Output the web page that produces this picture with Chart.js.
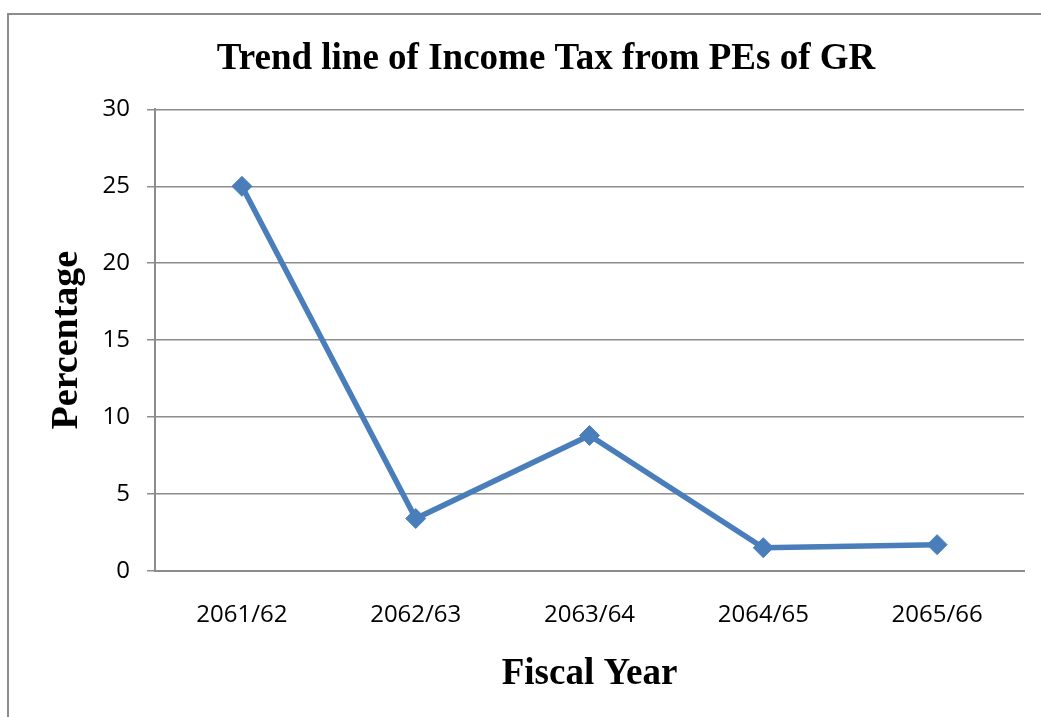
<!DOCTYPE html>
<html>
<head>
<meta charset="utf-8">
<title>Income Tax trend</title>
<script src="https://cdn.jsdelivr.net/npm/chart.js@4/dist/chart.umd.min.js"></script>
<style>
  html, body { margin: 0; padding: 0; background: #fff; overflow: hidden; }
  #wrap { position: absolute; left: 0; top: 0; width: 1041px; height: 717px; }
</style>
</head>
<body>
<div id="wrap"><canvas id="lineChart1"></canvas></div>
<script>
// fiscal years and income tax share (%)
var years = ["2061/62", "2062/63", "2063/64", "2064/65", "2065/66"]
var taxPct = [25, 3.4, 8.8, 1.5, 1.7]
var tableName = "Trend line of Income Tax from PEs of GR"

var lineColor = "#4a7ebb"
var gridColor = "#8c8c8c"
var serif = "'Liberation Serif', 'Times New Roman', serif"
var sans = "'Open Sans', sans-serif"

// outer frame of the chart area (runs off the right and bottom edge)
var framePlugin = {
    id: "frame",
    beforeDraw: function (chart) {
        var ctx = chart.ctx
        ctx.save()
        ctx.strokeStyle = "#8c8c8c"
        ctx.lineWidth = 2
        ctx.strokeRect(8, 14, 1100, 800)
        ctx.restore()
    }
}

var myChart = document.getElementById("lineChart1").getContext("2d")
var chart = new Chart(myChart, {
    type: "line",
    data: {
        labels: years,
        datasets: [{
            data: taxPct,
            borderColor: lineColor,
            backgroundColor: lineColor,
            borderWidth: 5.5,
            pointStyle: "rectRot",
            pointRadius: 10,
            pointBorderWidth: 1,
            pointBackgroundColor: lineColor,
            pointBorderColor: lineColor,
            tension: 0
        }]
    },
    options: {
        responsive: true,
        maintainAspectRatio: false,
        animation: false,
        layout: {
            // wide left pad keeps the title centred like the original
            padding: { left: 68, right: 17, top: 22, bottom: 15 }
        },
        plugins: {
            title: {
                text: tableName,
                display: true,
                color: "#000",
                font: { family: serif, size: 37, weight: "bold" },
                padding: { top: 15, bottom: 28 }
            },
            legend: { display: false },
            tooltip: { enabled: false }
        },
        scales: {
            x: {
                offset: true,
                grid: { display: false, drawTicks: false },
                border: { color: gridColor, width: 2 },
                ticks: {
                    color: "#000",
                    padding: 30,
                    font: { family: sans, size: 24 }
                },
                title: {
                    display: true,
                    text: "Fiscal Year",
                    color: "#000",
                    font: { family: serif, size: 37, weight: "bold" },
                    padding: { top: -7, bottom: 5 }
                }
            },
            y: {
                min: 0,
                max: 30,
                ticks: {
                    stepSize: 5,
                    color: "#000",
                    padding: 17,
                    font: { family: sans, size: 24 }
                },
                grid: { color: gridColor, lineWidth: 1.5, tickLength: 8 },
                border: { color: gridColor, width: 2 },
                title: {
                    display: true,
                    text: "Percentage",
                    color: "#000",
                    font: { family: serif, size: 38, weight: "bold" },
                    padding: { top: -24, bottom: -4 }
                }
            }
        }
    },
    plugins: [framePlugin]
})
</script>
</body>
</html>
